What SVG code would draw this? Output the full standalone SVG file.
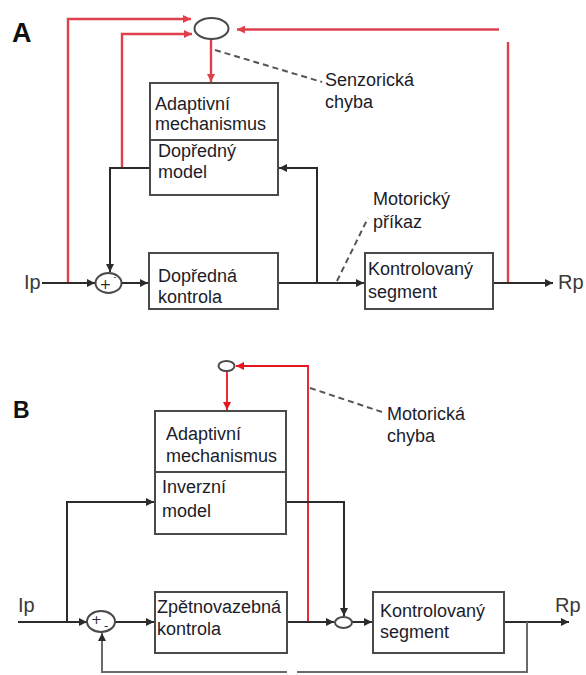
<svg xmlns="http://www.w3.org/2000/svg" width="586" height="675" viewBox="0 0 586 675">
<style>
.bg{fill:#ffffff}
.box{fill:#ffffff;stroke:#4a4a4a;stroke-width:2}
.div{stroke:#4a4a4a;stroke-width:2;fill:none}
.ln{fill:none;stroke:#2b2b2b;stroke-width:2}
.fb{fill:none;stroke:#6a6a6a;stroke-width:2}
.redA{fill:none;stroke:#e0404c;stroke-width:2.4}
.redB{fill:none;stroke:#e8141e;stroke-width:1.8}
.dash{fill:none;stroke:#555555;stroke-width:2;stroke-dasharray:6 4}
.node{fill:#ffffff;stroke:#4a4a4a;stroke-width:2}
.t{font-family:"Liberation Sans",Arial,sans-serif;font-size:18px;fill:#1c1c2a}
.io{font-family:"Liberation Sans",Arial,sans-serif;font-size:20px;fill:#3a3a3a}
.lbl{font-family:"Liberation Sans",Arial,sans-serif;font-weight:bold;fill:#111111}
.sgn{font-family:"DejaVu Sans",sans-serif;fill:#2b2b2b}
</style>
<defs>
<marker id="ak" viewBox="0 0 10 10" refX="10" refY="5" markerUnits="userSpaceOnUse" markerWidth="9" markerHeight="8" orient="auto"><path d="M0,0 L10,5 L0,10 z" fill="#2b2b2b"/></marker>
<marker id="arA" viewBox="0 0 10 10" refX="10" refY="5" markerUnits="userSpaceOnUse" markerWidth="9" markerHeight="8" orient="auto"><path d="M0,0 L10,5 L0,10 z" fill="#e0404c"/></marker>
<marker id="arB" viewBox="0 0 10 10" refX="10" refY="5" markerUnits="userSpaceOnUse" markerWidth="9" markerHeight="8" orient="auto"><path d="M0,0 L10,5 L0,10 z" fill="#e8141e"/></marker>
</defs>
<rect class="bg" x="0" y="0" width="586" height="675"/>

<!-- Panel A -->
<text class="lbl" x="12" y="42" font-size="27">A</text>
<g id="connectorsA">
<path class="redA" d="M68,283 V19 H191" marker-end="url(#arA)"/>
<path class="redA" d="M122,168 V34 H192" marker-end="url(#arA)"/>
<path class="redA" d="M499,29.5 H237" marker-end="url(#arA)"/>
<path class="redA" d="M508,42 V283"/>
<path class="redA" d="M211,39 V82" marker-end="url(#arA)"/>
<path class="dash" d="M215,50 L322,82"/>
<path class="ln" d="M150,168 H110 V272" marker-end="url(#ak)"/>
<path class="ln" d="M42,283 H95" marker-end="url(#ak)"/>
<path class="ln" d="M122,283 H148" marker-end="url(#ak)"/>
<path class="ln" d="M278,283 H364" marker-end="url(#ak)"/>
<path class="ln" d="M317,283 V168 H279" marker-end="url(#ak)"/>
<path class="dash" d="M337,281 L368,218"/>
<path class="ln" d="M493,283 H553" marker-end="url(#ak)"/>
</g>
<g id="errA"><ellipse class="node" cx="211.5" cy="28.5" rx="17" ry="10.5"/></g>
<g id="sumA">
<ellipse class="node" cx="108.5" cy="283" rx="13" ry="10"/>
<text class="sgn" x="99.5" y="289" font-size="14">+</text>
<text class="sgn" x="113.5" y="280" font-size="8">-</text>
</g>
<g id="adaptA">
<rect class="box" x="150" y="83" width="128" height="112"/>
<line class="div" x1="150" y1="140" x2="278" y2="140"/>
<text class="t" x="155" y="110">Adaptivní</text>
<text class="t" x="155" y="130">mechanismus</text>
<text class="t" x="158" y="157">Dopředný</text>
<text class="t" x="158" y="178">model</text>
</g>
<g id="ffA">
<rect class="box" x="149" y="253" width="129" height="56"/>
<text class="t" x="158" y="282">Dopředná</text>
<text class="t" x="158" y="303">kontrola</text>
</g>
<g id="segA">
<rect class="box" x="365" y="253" width="128" height="56"/>
<text class="t" x="368" y="275">Kontrolovaný</text>
<text class="t" x="368" y="298">segment</text>
</g>
<g id="labelsA">
<text class="t" x="325" y="86">Senzorická</text>
<text class="t" x="325" y="108">chyba</text>
<text class="t" x="373" y="205">Motorický</text>
<text class="t" x="373" y="228">příkaz</text>
<text class="io" x="24" y="289">Ip</text>
<text class="io" x="558" y="289">Rp</text>
</g>

<!-- Panel B -->
<text class="lbl" x="13" y="418" font-size="23">B</text>
<g id="connectorsB">
<path class="redB" d="M308,622 V366 H236" marker-end="url(#arB)"/>
<path class="redB" d="M227,371 V410" marker-end="url(#arB)"/>
<path class="dash" d="M310,388 L382,412"/>
<path class="ln" d="M67,622 V502 H154" marker-end="url(#ak)"/>
<path class="ln" d="M286,502 H344 V616" marker-end="url(#ak)"/>
<path class="ln" d="M18,622 H87" marker-end="url(#ak)"/>
<path class="ln" d="M115,622 H154" marker-end="url(#ak)"/>
<path class="ln" d="M287,622 H334" marker-end="url(#ak)"/>
<path class="ln" d="M352,622 H372" marker-end="url(#ak)"/>
<path class="ln" d="M504,622 H569" marker-end="url(#ak)"/>
<path class="fb" d="M527,622 V672 H297"/>
<path class="fb" d="M287,672 H102 V633" marker-end="url(#ak)"/>
</g>
<g id="errB"><ellipse class="node" cx="226.5" cy="366" rx="8" ry="5"/></g>
<g id="sumB">
<ellipse class="node" cx="101" cy="621.5" rx="14" ry="10.5"/>
<text class="sgn" x="91" y="624" font-size="13">+</text>
<text class="sgn" x="104" y="630" font-size="12">-</text>
</g>
<g id="junctionB"><ellipse class="node" cx="343.5" cy="622.5" rx="8.5" ry="5.5"/></g>
<g id="adaptB">
<rect class="box" x="155" y="411" width="131" height="123"/>
<line class="div" x1="155" y1="472" x2="286" y2="472"/>
<text class="t" x="166" y="440">Adaptivní</text>
<text class="t" x="166" y="462">mechanismus</text>
<text class="t" x="162" y="493">Inverzní</text>
<text class="t" x="162" y="517">model</text>
</g>
<g id="fbB">
<rect class="box" x="155" y="592" width="132" height="61"/>
<text class="t" x="157" y="613">Zpětnovazebná</text>
<text class="t" x="157" y="635">kontrola</text>
</g>
<g id="segB">
<rect class="box" x="373" y="592" width="131" height="61"/>
<text class="t" x="380" y="617">Kontrolovaný</text>
<text class="t" x="380" y="638">segment</text>
</g>
<g id="labelsB">
<text class="t" x="387" y="420">Motorická</text>
<text class="t" x="387" y="442">chyba</text>
<text class="io" x="18" y="612">Ip</text>
<text class="io" x="555" y="612">Rp</text>
</g>
</svg>
